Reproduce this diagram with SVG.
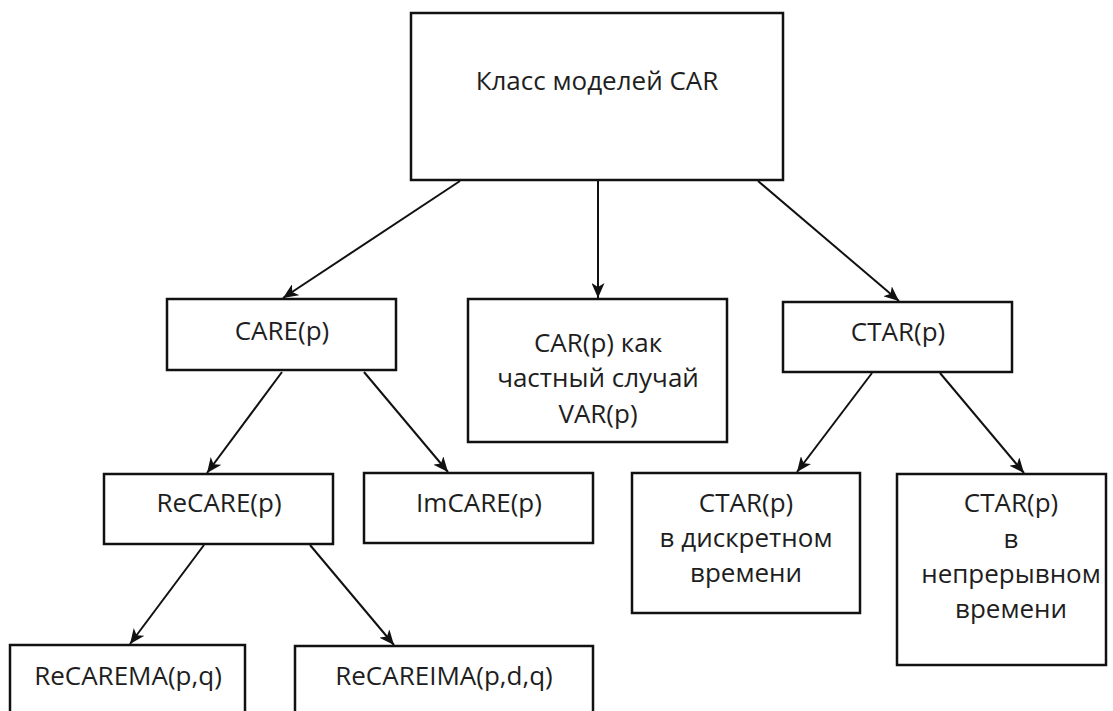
<svg xmlns="http://www.w3.org/2000/svg" width="1113" height="711" viewBox="0 0 1113 711">
  <style>
    .box { fill: #ffffff; stroke: #111111; stroke-width: 2.5; }
    .lbl { font-family: "Open Sans", "Liberation Sans", sans-serif; font-size: 26px; fill: #1e1e1e; text-anchor: middle; }
    .edge { stroke: #111111; stroke-width: 2; fill: none; marker-end: url(#arrow); }
  </style>
  <defs>
    <marker id="arrow" markerUnits="userSpaceOnUse" markerWidth="15" markerHeight="13" refX="15" refY="6.5" orient="auto">
      <path d="M0,0 L15,6.5 L0,13 L4,6.5 z" fill="#111111"/>
    </marker>
  </defs>
  <rect width="1113" height="711" fill="#ffffff"/>

  <g id="connectors">
    <line class="edge" x1="460" y1="181" x2="283" y2="298"/>
    <line class="edge" x1="598" y1="181" x2="598" y2="298"/>
    <line class="edge" x1="758" y1="181" x2="899" y2="301"/>
    <line class="edge" x1="282" y1="372" x2="207" y2="473"/>
    <line class="edge" x1="364" y1="372" x2="448" y2="472"/>
    <line class="edge" x1="204" y1="545" x2="130" y2="644"/>
    <line class="edge" x1="310" y1="545" x2="394" y2="645"/>
    <line class="edge" x1="872" y1="373" x2="797" y2="472"/>
    <line class="edge" x1="940" y1="373" x2="1024" y2="473"/>
  </g>

  <g id="car-class">
    <rect class="box" x="411" y="13" width="372" height="167"/>
    <text class="lbl" x="597" y="90">Класс моделей CAR</text>
  </g>

  <g id="care">
    <rect class="box" x="167" y="299" width="229" height="71"/>
    <text class="lbl" x="282" y="340">CARE(p)</text>
  </g>

  <g id="car-var">
    <rect class="box" x="468" y="299" width="259" height="143"/>
    <text class="lbl" x="598" y="352">CAR(p) как</text>
    <text class="lbl" x="598" y="387">частный случай</text>
    <text class="lbl" x="598" y="423">VAR(p)</text>
  </g>

  <g id="ctar">
    <rect class="box" x="783" y="302" width="229" height="70"/>
    <text class="lbl" x="898" y="341">CTAR(p)</text>
  </g>

  <g id="recare">
    <rect class="box" x="104" y="474" width="229" height="70"/>
    <text class="lbl" x="219" y="512">ReCARE(p)</text>
  </g>

  <g id="imcare">
    <rect class="box" x="364" y="473" width="229" height="70"/>
    <text class="lbl" x="479" y="512">ImCARE(p)</text>
  </g>

  <g id="ctar-discrete">
    <rect class="box" x="632" y="473" width="228" height="140"/>
    <text class="lbl" x="746" y="512">CTAR(p)</text>
    <text class="lbl" x="746" y="547">в дискретном</text>
    <text class="lbl" x="746" y="582">времени</text>
  </g>

  <g id="ctar-continuous">
    <rect class="box" x="897" y="474" width="209" height="191"/>
    <text class="lbl" x="1011" y="512">CTAR(p)</text>
    <text class="lbl" x="1011" y="548">в</text>
    <text class="lbl" x="1011" y="583">непрерывном</text>
    <text class="lbl" x="1011" y="618">времени</text>
  </g>

  <g id="recarema">
    <rect class="box" x="10" y="645" width="235" height="80"/>
    <text class="lbl" x="128" y="685">ReCAREMA(p,q)</text>
  </g>

  <g id="recareima">
    <rect class="box" x="295" y="646" width="298" height="80"/>
    <text class="lbl" x="444" y="685">ReCAREIMA(p,d,q)</text>
  </g>
</svg>
